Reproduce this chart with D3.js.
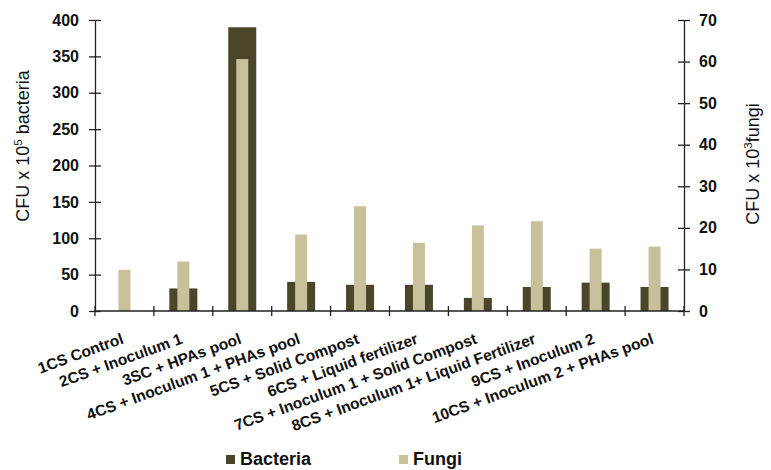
<!DOCTYPE html>
<html><head><meta charset="utf-8">
<script src="https://cdn.jsdelivr.net/npm/d3@7"></script>
<style>body{margin:0;background:#fff}svg{display:block}</style>
</head><body>
<svg id="c" width="771" height="470" font-family="'Liberation Sans', Arimo, Arial, sans-serif"></svg>
<script>
const categories = ["1CS Control","2CS + Inoculum 1","3SC + HPAs pool","4CS + Inoculum 1 + PHAs pool","5CS + Solid Compost","6CS + Liquid fertilizer","7CS + Inoculum 1 + Solid Compost","8CS + Inoculum 1+ Liquid Fertilizer","9CS + Inoculum 2","10CS + Inoculum 2 + PHAs pool"];
const bacteria = [0, 31, 390, 40, 36, 36, 18, 33, 39, 33];
const fungi = [9.9, 11.9, 60.6, 18.4, 25.2, 16.4, 20.6, 21.6, 15.0, 15.5];
const leftTicks = [0,50,100,150,200,250,300,350,400];
const rightTicks = [0,10,20,30,40,50,60,70];

const FONT = "'Liberation Sans', Arimo, Arial, sans-serif";
const svg = d3.select("#c");
const L = 95, R = 684, T = 20, B = 311;
const x = d3.scaleBand().domain(categories).range([L, R]).padding(0);
const yL = d3.scaleLinear().domain([0, 400]).range([B, T]);
const yR = d3.scaleLinear().domain([0, 70]).range([B, T]);
const dark = "#4b4529", light = "#c8c09a";

// bacteria bars
svg.append("g").selectAll("rect").data(categories).join("rect")
  .attr("x", d => x(d) + x.bandwidth()/2 - 14)
  .attr("width", 28)
  .attr("y", (d,i) => yL(bacteria[i]))
  .attr("height", (d,i) => B - yL(bacteria[i]))
  .attr("fill", dark);
// fungi bars
svg.append("g").selectAll("rect").data(categories).join("rect")
  .attr("x", d => x(d) + x.bandwidth()/2 - 6)
  .attr("width", 12)
  .attr("y", (d,i) => yR(fungi[i]))
  .attr("height", (d,i) => B - yR(fungi[i]))
  .attr("fill", light);

const axStyle = g => {
  g.attr("font-family", FONT);
  g.selectAll("path,line").attr("stroke", "#222").attr("stroke-width", 1.3);
  g.selectAll("text").attr("fill", "#111").attr("font-size", 16).attr("font-weight", "bold")
    .attr("font-family", FONT);
};
// left axis
const gl = svg.append("g").attr("transform", `translate(${L},0)`)
  .call(d3.axisLeft(yL).tickValues(leftTicks).tickSizeInner(6).tickSizeOuter(0).tickPadding(10));
gl.selectAll(".tick line").attr("x1", 6);
axStyle(gl);
// right axis
const gr = svg.append("g").attr("transform", `translate(${R},0)`)
  .call(d3.axisRight(yR).tickValues(rightTicks).tickSizeInner(6).tickSizeOuter(0).tickPadding(9));
gr.selectAll(".tick line").attr("x1", -6);
axStyle(gr);
// bottom axis
const bounds = d3.range(0, categories.length + 1).map(i => L + i * x.step());
svg.append("line").attr("x1", L).attr("x2", R).attr("y1", B).attr("y2", B)
  .attr("stroke", "#222").attr("stroke-width", 1.3);
svg.append("g").selectAll("line").data(bounds).join("line")
  .attr("x1", d => d).attr("x2", d => d).attr("y1", B - 5).attr("y2", B + 5)
  .attr("stroke", "#222").attr("stroke-width", 1.3);
// category labels
svg.append("g").selectAll("text").data(categories).join("text")
  .attr("transform", d => `translate(${x(d) + x.bandwidth()/2},343) rotate(-20)`)
  .attr("text-anchor", "end").attr("font-family", FONT)
  .attr("font-size", 15.5).attr("font-weight", "bold").attr("fill", "#111")
  .text(d => d);

// axis titles
const t1 = svg.append("text").attr("transform", "translate(29,146) rotate(-90)")
  .attr("text-anchor", "middle").attr("font-size", 18).attr("fill", "#111").attr("font-family", FONT);
t1.append("tspan").text("CFU x 10");
t1.append("tspan").text("5").attr("font-size", 11.5).attr("dy", -7);
t1.append("tspan").text(" bacteria").attr("dy", 7);
const t2 = svg.append("text").attr("transform", "translate(759,164) rotate(-90)")
  .attr("text-anchor", "middle").attr("font-size", 18).attr("fill", "#111").attr("font-family", FONT);
t2.append("tspan").text("CFU x 10");
t2.append("tspan").text("3").attr("font-size", 11.5).attr("dy", -7);
t2.append("tspan").text("fungi").attr("dy", 7);

// legend
const legend = [{name:"Bacteria", color: dark, x: 226}, {name:"Fungi", color: light, x: 399}];
const lg = svg.append("g").selectAll("g").data(legend).join("g")
  .attr("transform", d => `translate(${d.x},455)`);
lg.append("rect").attr("width", 9).attr("height", 9).attr("fill", d => d.color);
lg.append("text").attr("x", 14).attr("y", 10).attr("font-size", 18).attr("font-weight", "bold")
  .attr("font-family", FONT).attr("fill", "#111").text(d => d.name);
</script>
</body></html>
